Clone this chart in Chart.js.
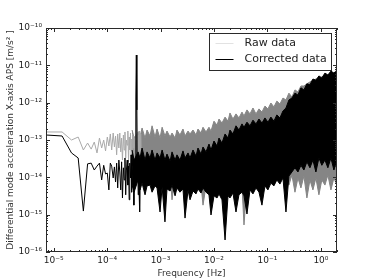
<!DOCTYPE html>
<html>
<head>
<meta charset="utf-8">
<script src="https://cdn.jsdelivr.net/npm/chart.js@4.4.0/dist/chart.umd.min.js"></script>
<style>
  html, body { margin: 0; padding: 0; background: #fff; }
  #chart { display: block; }
</style>
</head>
<body>
<canvas id="chart" width="374" height="280"></canvas>
<script>
/**
 * Low frequency part: one value per FFT bin (Hz)
 */
const lineFreq = [
  7.2e-6, 1.44e-5, 2.16e-5, 2.88e-5, 3.6e-5, 4.32e-5, 5.04e-5, 5.76e-5, 6.48e-5, 7.2e-5,
  7.92e-5, 8.64e-5, 9.36e-5, 1.01e-4, 1.08e-4, 1.15e-4, 1.22e-4, 1.30e-4, 1.37e-4, 1.44e-4,
  1.51e-4, 1.58e-4, 1.66e-4, 1.73e-4, 1.80e-4, 1.87e-4, 1.94e-4, 2.02e-4, 2.09e-4, 2.16e-4,
  2.23e-4, 2.30e-4, 2.38e-4, 2.45e-4, 2.52e-4, 2.59e-4, 2.66e-4, 2.74e-4, 2.81e-4, 2.88e-4,
  2.95e-4, 3.02e-4, 3.10e-4, 3.17e-4, 3.24e-4, 3.31e-4, 3.38e-4, 3.46e-4, 3.53e-4, 3.60e-4,
  3.67e-4, 3.74e-4, 3.82e-4, 3.89e-4, 3.96e-4, 4.03e-4, 4.10e-4, 4.18e-4, 4.25e-4, 4.32e-4
];
const rawLine = [
  1.64e-13, 1.64e-13, 1.0e-13, 1.2e-13, 5.4e-14, 8.3e-14, 5.7e-14, 8.8e-14, 4.5e-14, 1.13e-13,
  6.1e-14, 1.0e-13, 5.1e-14, 1.2e-13, 6.9e-14, 1.45e-13, 5.4e-14, 1.54e-13, 6.5e-14, 1.28e-13,
  4.0e-14, 1.45e-13, 6.1e-14, 1.54e-13, 4.8e-14, 1.13e-13, 2.9e-14, 1.36e-13, 5.4e-14, 1.64e-13,
  3.3e-14, 1.0e-13, 7.3e-14, 1.74e-13, 2.6e-14, 1.2e-13, 5.4e-14, 1.54e-13, 3.7e-14, 1.06e-13,
  2.1e-14, 1.45e-13, 6.1e-14, 1.28e-13, 1.57e-14, 1.13e-13, 1.0e-13, 1.18e-12, 1.89e-11, 6.4e-13,
  8.8e-14, 3.3e-14, 1.36e-13, 4.8e-14, 1.74e-13, 2.9e-14, 1.2e-13, 5.4e-14, 1.45e-13, 4.0e-14
];
const corrLine = [
  1.36e-13, 1.28e-13, 4.5e-14, 3.3e-14, 1.25e-15, 2.3e-14, 2.4e-14, 1.57e-14, 2.0e-14, 2.4e-14,
  8.5e-15, 2.1e-14, 1.23e-14, 1.3e-14, 4.6e-15, 2.4e-14, 2.0e-14, 9.6e-15, 1.9e-14, 7.5e-15,
  2.4e-14, 5.2e-15, 2.9e-14, 1.39e-14, 4.6e-15, 2.6e-14, 2.8e-15, 1.8e-14, 8.5e-15, 3.3e-14,
  3.4e-15, 1.57e-14, 2.9e-14, 6.2e-15, 2.0e-14, 2.5e-15, 2.4e-14, 9.6e-15, 4.0e-14, 4.0e-15,
  1.57e-14, 1.15e-14, 2.9e-14, 1.8e-15, 1.8e-14, 7.5e-15, 2.9e-14, 1.18e-12, 1.89e-11, 6.4e-13,
  1.15e-14, 2.1e-14, 3.4e-15, 2.9e-14, 5.2e-15, 1.57e-14, 1.18e-15, 2.1e-14, 8.5e-15, 3.3e-14
];

/**
 * Dense part: upper / lower envelope of each spectrum
 */
const bandFreq = [
  2.93e-4, 3.20e-4, 3.80e-4, 4.14e-4, 4.51e-4, 5.13e-4, 5.59e-4, 6.36e-4, 6.94e-4, 7.89e-4, 8.60e-4, 9.79e-4,
  1.07e-3, 1.21e-3, 1.32e-3, 1.51e-3, 1.64e-3, 1.87e-3, 2.03e-3, 2.31e-3, 2.63e-3, 2.87e-3,
  3.27e-3, 3.56e-3, 4.05e-3, 4.61e-3, 5.02e-3, 5.71e-3, 6.23e-3, 7.09e-3, 8.06e-3, 8.79e-3,
  1.0e-2, 1.14e-2, 1.24e-2, 1.41e-2, 1.61e-2, 1.83e-2, 1.99e-2, 2.26e-2, 2.58e-2, 2.93e-2,
  3.34e-2, 3.64e-2, 4.14e-2, 4.71e-2, 5.36e-2, 6.10e-2, 6.94e-2, 7.89e-2, 8.98e-2,
  0.102, 0.116, 0.132, 0.150, 0.171, 0.195, 0.222, 0.252, 0.287, 0.327, 0.372, 0.423,
  0.481, 0.547, 0.623, 0.709, 0.806, 0.918, 1.04, 1.19, 1.35, 1.54, 1.75, 1.99
];
const rawHigh = [
  1.85e-13, 1.13e-13, 1.64e-13, 1.2e-13, 2.1e-13, 1.13e-13, 1.85e-13, 1.28e-13, 2.4e-13, 1.2e-13, 1.97e-13, 1.13e-13,
  2.2e-13, 1.28e-13, 1.74e-13, 1.2e-13, 1.54e-13, 1.13e-13, 1.85e-13, 1.36e-13, 1.97e-13, 1.28e-13,
  1.74e-13, 1.45e-13, 1.85e-13, 1.36e-13, 1.97e-13, 1.54e-13, 2.2e-13, 1.64e-13, 2.2e-13, 1.74e-13,
  3.2e-13, 2.5e-13, 3.65e-13, 2.85e-13, 4.1e-13, 3.2e-13, 5.3e-13, 3.65e-13, 5.0e-13, 3.9e-13,
  5.6e-13, 4.4e-13, 6.4e-13, 5.0e-13, 7.2e-13, 5.0e-13, 6.8e-13, 5.6e-13, 8.1e-13,
  6.8e-13, 9.8e-13, 7.7e-13, 1.1e-12, 9.2e-13, 1.33e-12, 1.18e-12, 1.8e-12, 1.42e-12, 2.2e-12, 1.93e-12, 2.8e-12,
  2.8e-12, 3.2e-12, 3.6e-12, 4.0e-12, 4.3e-12, 4.6e-12, 4.9e-12, 5.2e-12, 5.5e-12, 5.9e-12, 6.2e-12, 6.6e-12
];
const rawLow = [
  2.9e-14, 1.8e-14, 3.3e-14, 1.39e-14, 2.9e-14, 1.15e-14, 2.1e-14, 1.57e-14, 8.5e-15, 1.8e-14, 1.08e-14, 1.57e-14,
  7.5e-15, 1.39e-14, 9.6e-15, 1.23e-14, 2.5e-15, 1.08e-14, 8.5e-15, 1.15e-14, 7.0e-15, 9.6e-15,
  6.2e-15, 8.5e-15, 5.2e-15, 7.5e-15, 4.6e-15, 6.6e-15, 1.8e-15, 5.9e-15, 4.6e-15, 6.2e-15,
  4.0e-15, 5.9e-15, 4.6e-15, 5.9e-15, 5.2e-15, 6.6e-15, 4.6e-15, 7.0e-15, 5.5e-15, 7.5e-15,
  5.9e-15, 5.3e-16, 6.6e-15, 8.5e-15, 6.6e-15, 9.6e-15, 7.5e-15, 1.08e-14, 8.5e-15,
  1.23e-14, 9.6e-15, 1.39e-14, 1.08e-14, 1.57e-14, 1.15e-14, 1.39e-14, 6.2e-15, 1.15e-14, 4.0e-15, 9.6e-15, 5.2e-15,
  1.08e-14, 2.8e-15, 8.5e-15, 4.6e-15, 9.6e-15, 3.4e-15, 8.5e-15, 6.2e-15, 1.15e-14, 4.6e-15, 9.6e-15, 6.2e-15
];
const corrHigh = [
  5.4e-14, 2.9e-14, 4.8e-14, 3.3e-14, 6.1e-14, 2.9e-14, 4.8e-14, 3.3e-14, 5.4e-14, 2.9e-14, 4.5e-14, 3.3e-14,
  5.4e-14, 2.9e-14, 4.2e-14, 2.7e-14, 4.8e-14, 2.9e-14, 4.0e-14, 2.9e-14, 5.1e-14, 3.3e-14,
  4.5e-14, 3.3e-14, 5.4e-14, 3.7e-14, 6.1e-14, 4.2e-14, 6.5e-14, 4.8e-14, 7.8e-14, 5.4e-14,
  9.4e-14, 6.9e-14, 1.13e-13, 8.3e-14, 1.45e-13, 1.13e-13, 1.85e-13, 1.45e-13, 2.4e-13, 1.85e-13,
  2.7e-13, 2.2e-13, 3.0e-13, 2.4e-13, 3.4e-13, 2.7e-13, 3.65e-13, 2.85e-13, 3.9e-13,
  3.0e-13, 4.1e-13, 3.2e-13, 4.7e-13, 3.9e-13, 6.0e-13, 7.2e-13, 1.18e-12, 1.33e-12, 1.8e-12, 1.6e-12, 2.5e-12,
  2.2e-12, 3.2e-12, 3.0e-12, 4.3e-12, 4.0e-12, 5.2e-12, 4.6e-12, 6.2e-12, 5.5e-12, 7.0e-12, 6.2e-12, 7.5e-12
];
const corrLow = [
  6.2e-15, 4.0e-15, 8.5e-15, 4.6e-15, 7.0e-15, 3.4e-15, 5.9e-15, 6.2e-15, 4.0e-15, 5.9e-15, 5.2e-15, 1.18e-15,
  5.5e-15, 6.4e-16, 4.9e-15, 4.3e-15, 6.2e-15, 3.2e-15, 5.2e-15, 4.0e-15, 4.9e-15, 8.1e-16,
  4.6e-15, 2.5e-15, 4.3e-15, 3.6e-15, 4.9e-15, 3.8e-15, 5.2e-15, 4.0e-15, 3.4e-15, 9.8e-16,
  3.2e-15, 2.8e-15, 3.6e-15, 2.5e-15, 2.1e-16, 3.2e-15, 2.8e-15, 3.8e-15, 1.18e-15, 3.4e-15,
  4.0e-15, 3.2e-15, 1.04e-15, 4.6e-15, 3.6e-15, 5.2e-15, 4.0e-15, 1.8e-15, 5.9e-15,
  4.6e-15, 7.0e-15, 5.9e-15, 8.5e-15, 6.6e-15, 9.6e-15, 1.18e-15, 1.08e-14, 1.39e-14, 1.8e-14, 1.39e-14, 2.1e-14,
  1.57e-14, 2.6e-14, 1.8e-14, 2.9e-14, 1.39e-14, 3.3e-14, 2.1e-14, 2.9e-14, 1.8e-14, 3.3e-14, 1.57e-14, 2.9e-14
];

/**
 * Axes
 */
const xTicks = [1e-5, 1e-4, 1e-3, 1e-2, 1e-1, 1];
const yTicks = [1e-16, 1e-15, 1e-14, 1e-13, 1e-12, 1e-11, 1e-10];
const xRange = [7.2e-6, 2.0];
const yRange = [1e-16, 1e-10];
const xTitle = 'Frequency [Hz]';
const yTitle = 'Differential mode acceleration X-axis APS [m/s\u00b2 ]';
const seriesNames = ['Raw data', 'Corrected data'];

const RAW_LINE = '#a9a9a9';
const RAW_FILL = '#858585';
const CORR = '#000000';
const LEGEND_RAW = '#e2e2e2';

Chart.defaults.font.family = '"DejaVu Sans", sans-serif';

//10 with unicode superscript exponent
const sup = {'-': '\u207b', '0': '\u2070', '1': '\u00b9', '2': '\u00b2', '3': '\u00b3',
  '4': '\u2074', '5': '\u2075', '6': '\u2076', '7': '\u2077', '8': '\u2078', '9': '\u2079'};
function powLabel(v) {
  const e = Math.round(Math.log10(v));
  return '10' + String(e).split('').map(c => sup[c]).join('');
}

function pts(xs, ys) {
  return xs.map((x, i) => ({x: x, y: ys[i]}));
}

function lineSet(data, color, extra) {
  return Object.assign({
    data: data,
    borderColor: color,
    backgroundColor: color,
    borderWidth: 1,
    pointRadius: 0,
    tension: 0,
    fill: false
  }, extra || {});
}

//frame and inward ticks on all four sides, like the original plot
const frameTicks = {
  id: 'frameTicks',
  afterDatasetsDraw(chart) {
    const {ctx, chartArea: a, scales: {x, y}} = chart;
    ctx.save();
    ctx.strokeStyle = '#2a2a2a';
    ctx.lineWidth = 1;
    ctx.beginPath();
    for (let e = -6; e <= 0; e++) {
      for (let k = 1; k <= 9; k++) {
        const v = k * Math.pow(10, e);
        if (v < x.min || v > x.max) continue;
        const px = Math.round(x.getPixelForValue(v)) + 0.5;
        const len = k === 1 ? 4 : 2;
        ctx.moveTo(px, a.bottom); ctx.lineTo(px, a.bottom - len);
        ctx.moveTo(px, a.top); ctx.lineTo(px, a.top + len);
      }
    }
    for (let e = -16; e <= -10; e++) {
      for (let k = 1; k <= 9; k++) {
        const v = k * Math.pow(10, e);
        if (v < y.min * 0.999 || v > y.max * 1.001) continue;
        const py = Math.round(y.getPixelForValue(v)) + 0.5;
        const len = k === 1 ? 4 : 2;
        ctx.moveTo(a.left, py); ctx.lineTo(a.left + len, py);
        ctx.moveTo(a.right, py); ctx.lineTo(a.right - len, py);
      }
    }
    ctx.stroke();
    ctx.strokeRect(Math.round(a.left) + 0.5, Math.round(a.top) + 0.5,
      Math.round(a.right - a.left) - 1, Math.round(a.bottom - a.top) - 1);
    ctx.restore();
  },
  afterDraw(chart) {
    //legend box, top right inside the plot
    const ctx = chart.ctx;
    const a = chart.chartArea;
    const bx = Math.round(a.right) - 127.5, by = Math.round(a.top) + 5.5, bw = 122, bh = 37;
    ctx.save();
    ctx.fillStyle = '#fff';
    ctx.fillRect(bx, by, bw, bh);
    ctx.strokeStyle = '#2a2a2a';
    ctx.lineWidth = 1;
    ctx.strokeRect(bx, by, bw, bh);
    const colors = [LEGEND_RAW, CORR];
    ctx.font = '11px "DejaVu Sans"';
    ctx.textBaseline = 'middle';
    seriesNames.forEach((name, i) => {
      const ly = by + 10 + i * 16;
      ctx.strokeStyle = colors[i];
      ctx.beginPath();
      ctx.moveTo(bx + 6, ly); ctx.lineTo(bx + 24, ly);
      ctx.stroke();
      ctx.fillStyle = '#222';
      ctx.fillText(name, bx + 35, ly);
    });
    ctx.restore();
  }
};

const ctx = document.getElementById('chart').getContext('2d');

new Chart(ctx, {
  type: 'line',
  data: {
    //first dataset is drawn on top
    datasets: [
      lineSet(pts(lineFreq, corrLine), CORR),
      lineSet(pts(bandFreq, corrHigh), CORR, {fill: '+1'}),
      lineSet(pts(bandFreq, corrLow), CORR),
      lineSet(pts(lineFreq, rawLine), RAW_LINE),
      lineSet(pts(bandFreq, rawHigh), RAW_FILL, {fill: '+1'}),
      lineSet(pts(bandFreq, rawLow), RAW_FILL)
    ]
  },
  options: {
    responsive: false,
    animation: false,
    devicePixelRatio: 1,
    layout: {padding: {top: 28, right: 37, left: 0, bottom: 0}},
    plugins: {
      legend: {display: false},
      tooltip: {enabled: false}
    },
    scales: {
      x: {
        type: 'logarithmic',
        min: xRange[0],
        max: xRange[1],
        grid: {display: false, drawTicks: false},
        border: {display: false},
        afterBuildTicks: (s) => { s.ticks = xTicks.map(v => ({value: v, major: true})); },
        afterFit: (s) => { s.height = 28; },
        ticks: {
          color: '#222',
          font: {size: 9},
          padding: 3,
          maxRotation: 0,
          autoSkip: false,
          callback: (v) => powLabel(v)
        },
        title: {
          display: true,
          text: xTitle,
          color: '#333',
          font: {size: 9},
          padding: {top: 0, bottom: 1}
        }
      },
      y: {
        type: 'logarithmic',
        min: yRange[0],
        max: yRange[1],
        grid: {display: false, drawTicks: false},
        border: {display: false},
        afterBuildTicks: (s) => { s.ticks = yTicks.map(v => ({value: v, major: true})); },
        afterFit: (s) => { s.width = 46; },
        ticks: {
          color: '#222',
          font: {size: 9},
          padding: 4,
          autoSkip: false,
          callback: (v) => powLabel(v)
        },
        title: {
          display: true,
          text: yTitle,
          color: '#333',
          font: {size: 9},
          padding: {top: 5, bottom: 0}
        }
      }
    }
  },
  plugins: [frameTicks]
});
</script>
</body>
</html>
